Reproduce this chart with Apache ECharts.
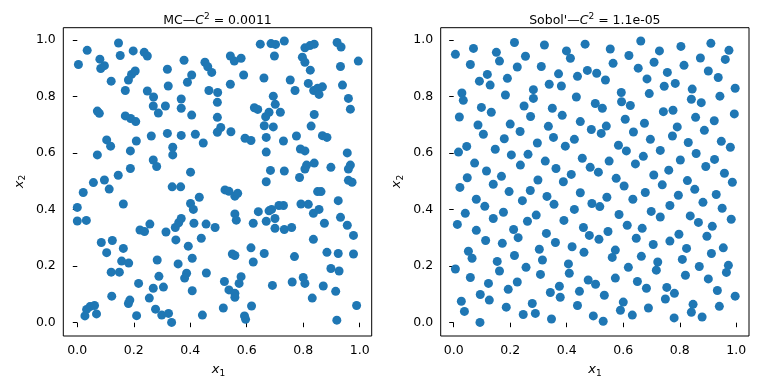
<!DOCTYPE html>
<html><head><meta charset="utf-8">
<script src="https://cdn.jsdelivr.net/npm/echarts@6/dist/echarts.min.js"></script>
<style>html,body{margin:0;padding:0;background:#fff}#c{width:768px;height:384px}</style>
</head><body><div id="c"></div>
<script>
const panelNames = ['MC', "Sobol'"];
const discrepancies = ['0.0011', '1.1e-05'];
const tickValues = [0, 0.2, 0.4, 0.6, 0.8, 1.0];

const mcPoints = [
[0.004,0.914],[0.035,0.964],[0.080,0.933],[0.083,0.900],[0.096,0.910],[0.146,0.990],[0.152,0.946],[0.198,0.962],
[0.237,0.957],[0.248,0.944],[0.120,0.855],[0.170,0.822],[0.181,0.859],[0.192,0.879],[0.205,0.891],[0.248,0.820],
[0.270,0.799],[0.269,0.767],[0.287,0.742],[0.312,0.767],[0.319,0.897],[0.322,0.838],[0.378,0.929],[0.405,0.877],
[0.390,0.851],[0.368,0.792],[0.368,0.759],[0.405,0.735],[0.452,0.922],[0.462,0.906],[0.476,0.886],[0.466,0.822],
[0.497,0.815],[0.496,0.780],[0.496,0.727],[0.508,0.691],[0.496,0.674],[0.071,0.749],[0.078,0.741],[0.170,0.732],
[0.189,0.723],[0.207,0.712],[0.104,0.647],[0.118,0.625],[0.209,0.643],[0.262,0.661],[0.319,0.670],[0.368,0.663],
[0.418,0.667],[0.446,0.636],[0.338,0.621],[0.338,0.594],[0.071,0.594],[0.188,0.608],[0.269,0.576],[0.281,0.553],
[0.188,0.546],[0.145,0.522],[0.096,0.505],[0.057,0.496],[0.401,0.533],
[0.648,0.986],[0.686,0.988],[0.702,0.985],[0.733,0.997],[0.698,0.944],[0.542,0.944],[0.556,0.926],[0.580,0.936],
[0.806,0.973],[0.824,0.981],[0.839,0.986],[0.797,0.940],[0.806,0.922],[0.825,0.894],[0.920,0.992],[0.934,0.976],
[0.995,0.926],[0.932,0.907],[0.589,0.877],[0.661,0.866],[0.542,0.844],[0.754,0.859],[0.771,0.822],[0.818,0.847],
[0.837,0.822],[0.851,0.830],[0.868,0.835],[0.856,0.808],[0.939,0.841],[0.960,0.794],[0.967,0.756],[0.694,0.802],
[0.701,0.773],[0.627,0.761],[0.639,0.755],[0.679,0.745],[0.667,0.729],[0.719,0.745],[0.839,0.737],[0.662,0.697],
[0.694,0.693],[0.828,0.696],[0.544,0.676],[0.594,0.653],[0.615,0.645],[0.669,0.656],[0.730,0.643],[0.776,0.661],
[0.868,0.662],[0.884,0.656],[0.669,0.604],[0.790,0.615],[0.806,0.608],[0.956,0.601],[0.684,0.539],[0.733,0.537],
[0.812,0.558],[0.806,0.544],[0.839,0.565],[0.787,0.514],[0.898,0.550],[0.967,0.558],[0.960,0.544],[0.669,0.499],
[0.960,0.504],[0.973,0.497],
[0.021,0.461],[0.113,0.473],[0.336,0.481],[0.366,0.481],[0.000,0.408],[0.000,0.360],[0.032,0.362],[0.163,0.420],
[0.401,0.422],[0.411,0.401],[0.432,0.444],[0.413,0.352],[0.456,0.349],[0.488,0.337],[0.222,0.328],[0.238,0.323],
[0.257,0.349],[0.314,0.321],[0.347,0.337],[0.359,0.354],[0.368,0.369],[0.349,0.293],[0.439,0.299],[0.393,0.271],
[0.407,0.228],[0.085,0.284],[0.124,0.291],[0.104,0.248],[0.163,0.263],[0.157,0.218],[0.182,0.211],[0.120,0.179],
[0.149,0.179],[0.283,0.222],[0.357,0.208],[0.387,0.175],[0.380,0.158],[0.457,0.176],[0.289,0.164],[0.217,0.139],
[0.269,0.122],[0.305,0.126],[0.407,0.113],[0.122,0.094],[0.181,0.068],[0.186,0.080],[0.255,0.087],[0.277,0.048],
[0.299,0.027],[0.323,0.033],[0.334,0.001],[0.210,0.025],[0.443,0.027],[0.033,0.047],[0.045,0.057],[0.061,0.061],
[0.068,0.031],[0.027,0.024],
[0.523,0.470],[0.537,0.465],[0.558,0.448],[0.568,0.458],[0.558,0.385],[0.563,0.363],[0.623,0.352],[0.641,0.393],
[0.679,0.396],[0.688,0.401],[0.714,0.415],[0.730,0.415],[0.669,0.359],[0.700,0.369],[0.700,0.334],[0.733,0.330],
[0.759,0.337],[0.792,0.420],[0.818,0.419],[0.851,0.464],[0.863,0.464],[0.836,0.387],[0.856,0.401],[0.875,0.352],
[0.924,0.432],[0.932,0.373],[0.956,0.345],[0.978,0.309],[0.836,0.295],[0.615,0.265],[0.549,0.243],[0.558,0.238],
[0.623,0.215],[0.662,0.245],[0.769,0.234],[0.884,0.249],[0.924,0.245],[0.978,0.243],[0.898,0.192],[0.927,0.183],
[0.521,0.146],[0.580,0.163],[0.573,0.139],[0.537,0.116],[0.558,0.104],[0.558,0.090],[0.691,0.132],[0.761,0.144],
[0.800,0.160],[0.806,0.139],[0.871,0.130],[0.915,0.111],[0.832,0.087],[0.517,0.052],[0.617,0.059],[0.592,0.024],
[0.596,0.012],[0.919,0.009],[0.989,0.061]
];

const sobolPoints = [
[0.006,0.950],[0.070,0.971],[0.059,0.914],[0.151,0.957],[0.162,0.926],[0.215,0.992],[0.254,0.943],[0.225,0.905],
[0.321,0.983],[0.310,0.907],[0.399,0.962],[0.413,0.936],[0.465,0.986],[0.473,0.893],[0.506,0.883],[0.119,0.879],
[0.091,0.855],[0.129,0.841],[0.190,0.865],[0.183,0.806],[0.282,0.825],[0.282,0.794],[0.338,0.844],[0.371,0.881],
[0.381,0.838],[0.438,0.872],[0.434,0.799],[0.029,0.813],[0.034,0.787],[0.098,0.762],[0.133,0.745],[0.020,0.728],
[0.249,0.767],[0.272,0.730],[0.349,0.759],[0.384,0.734],[0.501,0.776],[0.448,0.712],[0.487,0.684],[0.086,0.700],
[0.105,0.667],[0.200,0.703],[0.235,0.677],[0.179,0.651],[0.335,0.695],[0.353,0.656],[0.296,0.636],[0.427,0.649],
[0.395,0.625],[0.017,0.604],[0.046,0.624],[0.147,0.614],[0.204,0.594],[0.263,0.596],[0.074,0.565],[0.116,0.537],
[0.169,0.518],[0.236,0.558],[0.324,0.572],[0.362,0.546],[0.455,0.582],[0.416,0.525],[0.483,0.550],[0.512,0.533],
[0.048,0.513],[0.298,0.505],[0.388,0.499],
[0.662,0.997],[0.554,0.969],[0.620,0.946],[0.564,0.918],[0.728,0.962],[0.709,0.922],[0.653,0.901],[0.804,0.978],
[0.815,0.911],[0.873,0.937],[0.910,0.989],[0.974,0.964],[0.961,0.932],[0.901,0.891],[0.936,0.868],[0.537,0.859],
[0.684,0.863],[0.756,0.886],[0.745,0.837],[0.784,0.847],[0.692,0.811],[0.593,0.815],[0.594,0.782],[0.625,0.769],
[0.844,0.827],[0.841,0.791],[0.876,0.779],[0.942,0.802],[0.996,0.830],[0.526,0.759],[0.742,0.747],[0.776,0.752],
[0.856,0.727],[0.922,0.715],[0.993,0.739],[0.607,0.720],[0.675,0.706],[0.540,0.696],[0.522,0.670],[0.636,0.675],
[0.791,0.693],[0.774,0.661],[0.887,0.681],[0.696,0.649],[0.830,0.638],[0.947,0.642],[0.979,0.621],[0.583,0.628],
[0.611,0.608],[0.731,0.610],[0.858,0.599],[0.671,0.589],[0.550,0.572],[0.643,0.562],[0.802,0.576],[0.923,0.578],
[0.892,0.553],[0.761,0.540],[0.708,0.523],[0.575,0.511],[0.958,0.529],[0.986,0.497],[0.827,0.503],
[0.022,0.479],[0.140,0.490],[0.196,0.464],[0.271,0.468],[0.330,0.447],[0.355,0.419],[0.448,0.460],[0.489,0.422],
[0.080,0.437],[0.110,0.412],[0.243,0.432],[0.041,0.387],[0.176,0.391],[0.140,0.369],[0.292,0.381],[0.261,0.359],
[0.427,0.401],[0.390,0.362],[0.013,0.348],[0.080,0.327],[0.113,0.291],[0.212,0.330],[0.228,0.301],[0.172,0.281],
[0.328,0.316],[0.360,0.284],[0.459,0.337],[0.480,0.309],[0.419,0.269],[0.461,0.249],[0.052,0.253],[0.065,0.228],
[0.215,0.238],[0.303,0.260],[0.314,0.222],[0.154,0.217],[0.162,0.183],[0.256,0.196],[0.307,0.171],[0.406,0.208],
[0.409,0.175],[0.006,0.190],[0.059,0.160],[0.123,0.139],[0.193,0.118],[0.225,0.144],[0.476,0.151],[0.502,0.136],
[0.094,0.100],[0.126,0.080],[0.027,0.076],[0.038,0.040],[0.093,0.001],[0.186,0.055],[0.246,0.029],[0.278,0.068],
[0.289,0.033],[0.342,0.107],[0.374,0.129],[0.377,0.090],[0.346,0.013],[0.445,0.111],[0.438,0.061],[0.494,0.024],
[0.603,0.484],[0.738,0.488],[0.853,0.472],[0.542,0.444],[0.634,0.437],[0.678,0.461],[0.795,0.451],[0.929,0.454],
[0.517,0.411],[0.765,0.415],[0.882,0.426],[0.950,0.405],[0.585,0.383],[0.699,0.394],[0.731,0.374],[0.837,0.378],
[0.866,0.355],[0.982,0.366],[0.614,0.345],[0.667,0.334],[0.915,0.341],[0.546,0.323],[0.514,0.295],[0.646,0.299],
[0.797,0.313],[0.896,0.306],[0.706,0.277],[0.765,0.289],[0.572,0.257],[0.561,0.231],[0.824,0.263],[0.912,0.245],
[0.954,0.265],[0.664,0.235],[0.722,0.215],[0.717,0.186],[0.809,0.224],[0.618,0.196],[0.869,0.199],[0.972,0.203],
[0.965,0.178],[0.820,0.168],[0.572,0.158],[0.650,0.146],[0.901,0.155],[0.682,0.122],[0.754,0.125],[0.781,0.104],
[0.749,0.084],[0.933,0.114],[0.533,0.097],[0.996,0.094],[0.600,0.073],[0.590,0.044],[0.689,0.052],[0.632,0.027],
[0.847,0.065],[0.841,0.037],[0.940,0.058],[0.879,0.020],[0.780,0.017],[0.529,0.005]
];

const FONT = 'DejaVu Sans';
const BLUE = '#1f77b4';
const FS = 12.5;

const panels = [
  { frame: {left: 63.3, top: 27.7, width: 308.4, height: 308.3},
    data:  {left: 77.3, top: 40.2, width: 282.4, height: 282.5},
    xOff: 13.3, yOff: 14, points: mcPoints },
  { frame: {left: 440.7, top: 27.7, width: 308.3, height: 308.3},
    data:  {left: 453.7, top: 40.2, width: 282.6, height: 282.5},
    xOff: 13.3, yOff: 13, points: sobolPoints }
];

const richMath = {
  i:   {fontFamily: FONT, fontSize: 13, fontStyle: 'italic', color: '#000', lineHeight: 16},
  sub: {fontFamily: FONT, fontSize: 9, color: '#000', lineHeight: 9, verticalAlign: 'bottom'},
  sup: {fontFamily: FONT, fontSize: 9, color: '#000', lineHeight: 9, verticalAlign: 'top'}
};

const grids = [], xAxes = [], yAxes = [], series = [], graphics = [];
panels.forEach((p, k) => {
  const fi = grids.length;
  grids.push(Object.assign({show: true, borderColor: '#000', borderWidth: 1,
    backgroundColor: 'rgba(0,0,0,0)', containLabel: false}, p.frame));
  const di = grids.length;
  grids.push(Object.assign({show: false, containLabel: false}, p.data));
  xAxes.push({gridIndex: fi, type: 'value', show: false, min: 0, max: 1});
  yAxes.push({gridIndex: fi, type: 'value', show: false, min: 0, max: 1});
  const tickCommon = {
    type: 'value', min: tickValues[0], max: tickValues[tickValues.length - 1],
    interval: tickValues[1] - tickValues[0],
    axisLine: {show: false}, splitLine: {show: false},
    axisTick: {show: true, length: 4.5, lineStyle: {color: '#000', width: 1}},
    nameLocation: 'middle',
    nameTextStyle: {fontFamily: FONT, fontSize: 13, color: '#000', lineHeight: 16, rich: richMath}
  };
  xAxes.push(Object.assign({}, tickCommon, {
    gridIndex: di, position: 'bottom', offset: p.xOff,
    axisLabel: {margin: 8, color: '#000', fontFamily: FONT, fontSize: FS, formatter: v => v.toFixed(1)},
    name: '{i|x}{sub|1}', nameGap: 24
  }));
  yAxes.push(Object.assign({}, tickCommon, {
    gridIndex: di, position: 'left', offset: p.yOff,
    axisLabel: {margin: 7.5, color: '#000', fontFamily: FONT, fontSize: FS, formatter: v => v.toFixed(1)},
    name: '{i|x}{sub|2}', nameGap: 36, nameRotate: 90
  }));
  series.push({
    type: 'scatter', xAxisIndex: k * 2 + 1, yAxisIndex: k * 2 + 1,
    data: p.points, symbol: 'circle', symbolSize: 9, clip: false, silent: true,
    itemStyle: {color: BLUE, opacity: 1}
  });
  graphics.push({
    type: 'text', x: p.frame.left + p.frame.width / 2, y: 20.5,
    style: {
      text: panelNames[k] + '—{i|C}{sup|2} = ' + discrepancies[k],
      fill: '#000', fontFamily: FONT, fontSize: FS, lineHeight: 16,
      align: 'center', verticalAlign: 'middle',
      rich: {
        i: {fontFamily: FONT, fontSize: FS, fontStyle: 'italic', fill: '#000', lineHeight: 16},
        sup: {fontFamily: FONT, fontSize: 9, fill: '#000', lineHeight: 9, verticalAlign: 'top'}
      }
    }
  });
});

const chart = echarts.init(document.getElementById('c'), null, {renderer: 'canvas'});
chart.setOption({
  animation: false,
  backgroundColor: '#fff',
  textStyle: {fontFamily: FONT},
  grid: grids, xAxis: xAxes, yAxis: yAxes, series: series,
  graphic: graphics
});
</script></body></html>
